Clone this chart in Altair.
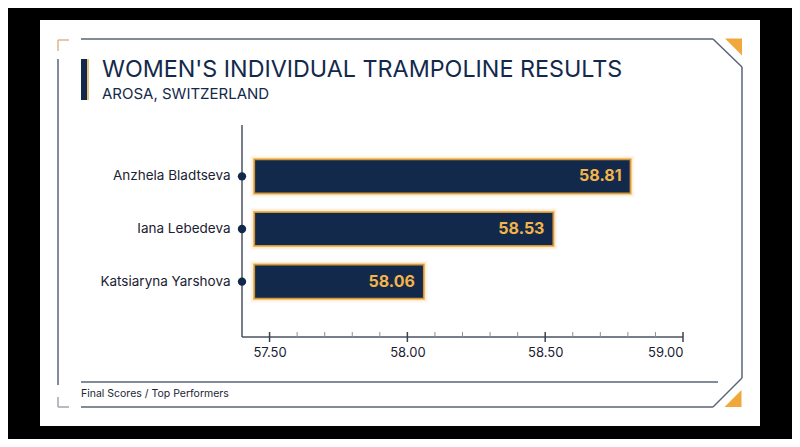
import altair as alt
import pandas as pd

# ---- data ----
athletes = ["Anzhela Bladtseva", "Iana Lebedeva", "Katsiaryna Yarshova"]
scores = [58.81, 58.53, 58.06]
bar_base = 57.444
x_domain = [57.4, 59.0]
major_ticks = [57.5, 58.0, 58.5, 59.0]
minor_ticks = [57.6, 57.7, 57.8, 57.9, 58.1, 58.2, 58.3, 58.4, 58.6, 58.7, 58.8, 58.9]
title_text = "WOMEN'S INDIVIDUAL TRAMPOLINE RESULTS"
subtitle_text = "AROSA, SWITZERLAND"
footer_text = "Final Scores / Top Performers"

NAVY = "#13294b"
GOLD = "#f0a83c"
GOLD_TXT = "#f3b44a"
LINE = "#5a6478"
FONT = "Inter"

W, H = 441, 212

df = pd.DataFrame({"name": athletes, "score": scores, "base": [bar_base] * len(scores)})
df["label"] = df["score"].map(lambda v: f"{v:.2f}")
one = pd.DataFrame({"d": [0]})
maj = pd.DataFrame({"v": major_ticks})
mnr = pd.DataFrame({"v": minor_ticks})

xs = alt.Scale(domain=x_domain, nice=False, zero=False)
ys = alt.Scale(domain=athletes, range=[0, 208], paddingInner=0.35, paddingOuter=0.65)

x_axis = alt.Axis(values=major_ticks, format=".2f", domain=False, ticks=False, grid=False,
                  labelPadding=9, labelFontSize=13, labelColor="#1a2232", labelFont=FONT,
                  title=None, zindex=2)
y_axis = alt.Axis(domain=False, ticks=False, grid=False, labelPadding=12, labelFontSize=13.5,
                  labelColor="#1a2232", labelFont=FONT, title=None, zindex=2)


def rule(x, y, x2, y2, color=LINE, w=1.5):
    return alt.Chart(one).mark_rule(color=color, strokeWidth=w).encode(
        x=alt.value(x), y=alt.value(y), x2=alt.value(x2), y2=alt.value(y2))


def rect(x, y, x2, y2, color):
    return alt.Chart(one).mark_rect(color=color).encode(
        x=alt.value(x), y=alt.value(y), x2=alt.value(x2), y2=alt.value(y2))


panel = rect(-202, -105, 518, 301, "white")

frame = [
    rule(-161, -86, 471, -86),
    rule(471, -86, 500, -58),
    rule(500, -58, 500, 253),
    rule(500, 253, 471, 282),
    rule(-161, 282, 471, 282),
    rule(-161, 257, 476, 257),
    rule(-184, -66, -184, 260),
    rule(-184, -85, -173, -85, "#d8b888", 1.5),
    rule(-184, -85, -184, -74, "#d8b888", 1.5),
    rule(-184, 272, -184, 282, "#a0a5ae", 1.5),
    rule(-184, 282, -173, 282, "#a0a5ae", 1.5),
    rect(-161, -66, -155, -25, NAVY),
    rect(-155, -66, -153, -25, "#e8c27e"),
]

tri_tr = alt.Chart(one).mark_point(filled=True, opacity=1, color=GOLD, shape="M -1 -1 L 1 -1 L 1 1 Z",
                                   size=289, strokeWidth=0).encode(x=alt.value(491.5), y=alt.value(-78))
tri_br = alt.Chart(one).mark_point(filled=True, opacity=1, color=GOLD, shape="M 1 -1 L 1 1 L -1 1 Z",
                                   size=289, strokeWidth=0).encode(x=alt.value(491), y=alt.value(273.5))

title = alt.Chart(one).mark_text(align="left", baseline="alphabetic", fontSize=23.3, font=FONT,
                                 color=NAVY).encode(x=alt.value(-140), y=alt.value(-48), text=alt.value(title_text))
subtitle = alt.Chart(one).mark_text(align="left", baseline="alphabetic", fontSize=15, font=FONT,
                                    color=NAVY).encode(x=alt.value(-140), y=alt.value(-26), text=alt.value(subtitle_text))
footer = alt.Chart(one).mark_text(align="left", baseline="middle", fontSize=10.5, font=FONT,
                                  color="#1d2535").encode(x=alt.value(-161), y=alt.value(269), text=alt.value(footer_text))

base = alt.Chart(df)
glow1 = base.mark_bar(color=NAVY, stroke=GOLD, strokeWidth=8, strokeOpacity=0.07).encode(
    x=alt.X("base:Q", scale=xs, axis=x_axis), x2="score:Q",
    y=alt.Y("name:N", scale=ys, axis=y_axis, sort=athletes))
glow2 = base.mark_bar(color=NAVY, stroke=GOLD, strokeWidth=5, strokeOpacity=0.15).encode(
    x=alt.X("base:Q", scale=xs), x2="score:Q", y=alt.Y("name:N", scale=ys, sort=athletes))
bars = base.mark_bar(color=NAVY, stroke=GOLD, strokeWidth=2, strokeOpacity=0.85).encode(
    x=alt.X("base:Q", scale=xs), x2="score:Q", y=alt.Y("name:N", scale=ys, sort=athletes))
values = base.mark_text(align="right", baseline="middle", dx=-9, fontSize=16, fontWeight="bold",
                        font=FONT, color=GOLD_TXT).encode(
    x=alt.X("score:Q", scale=xs), y=alt.Y("name:N", scale=ys, sort=athletes), text="label:N")

y_line = rule(0, 0, 0, H, "#4a5262", 1.5)
x_line = rule(0, H, W, H, "#4a5262", 1.5)
dots = base.mark_circle(color=NAVY, size=70, opacity=1).encode(
    x=alt.value(0), y=alt.Y("name:N", scale=ys, sort=athletes))
major = alt.Chart(maj).mark_rule(color="#3a4252", strokeWidth=1.5).encode(
    x=alt.X("v:Q", scale=xs), y=alt.value(207), y2=alt.value(217))
minor = alt.Chart(mnr).mark_rule(color="#8a909c", strokeWidth=1).encode(
    x=alt.X("v:Q", scale=xs), y=alt.value(207), y2=alt.value(212))

chart = alt.layer(
    panel, *frame, tri_tr, tri_br, title, subtitle, footer,
    glow1, glow2, bars, values, y_line, x_line, minor, major, dots
).properties(
    width=W, height=H,
    autosize=alt.AutoSizeParams(type="none"),
    padding={"left": 234, "top": 117, "right": 109, "bottom": 102},
    background="black",
).configure_view(stroke=None)

chart.save("out.html", embed_options={"renderer": "svg", "actions": False})
